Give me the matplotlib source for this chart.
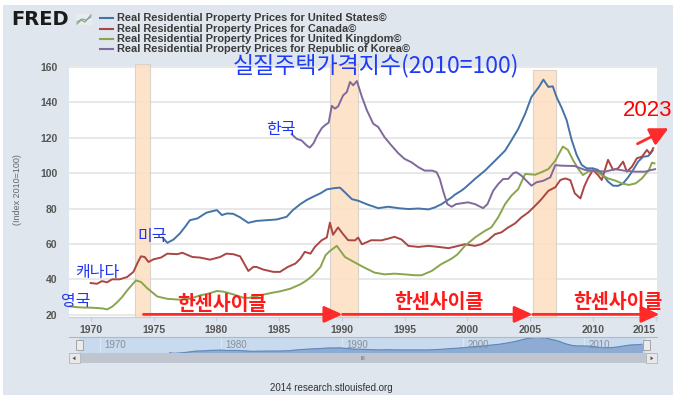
import matplotlib.pyplot as plt
from matplotlib.patches import Rectangle, FancyArrowPatch, Polygon
from matplotlib.lines import Line2D

W, H = 675, 399

# ---- data (index 2010=100) ----
us_years = [1975.75, 1976.1, 1976.6, 1977.1, 1977.5, 1977.9, 1978.5, 1979.2, 1979.8,
            1980.05, 1980.45, 1980.85, 1981.35, 1981.9, 1982.55, 1983.2, 1984.0, 1984.8,
            1985.6, 1986.1, 1986.7, 1987.2, 1987.7, 1988.3, 1988.8, 1989.3, 1989.85,
            1990.25, 1990.8, 1991.3, 1992.1, 1992.9, 1993.7, 1994.5, 1995.3, 1996.1,
            1996.9, 1997.4, 1997.95, 1998.75, 1999.0, 1999.5, 1999.8, 2000.6, 2001.4,
            2002.2, 2003.0, 2003.5, 2004.05, 2004.6, 2005.1, 2005.7, 2006.05, 2006.45,
            2006.8, 2007.1, 2007.5, 2007.9, 2008.3, 2008.7, 2009.1, 2009.5, 2010.0,
            2010.4, 2010.8, 2011.2, 2011.6, 2012.0, 2012.4, 2012.8, 2013.2, 2013.6,
            2014.0, 2014.4, 2014.75]
us_vals = [63.5, 60.6, 62.5, 65.9, 69.5, 73.4, 74.4, 77.6, 78.7,
           79.1, 76.3, 77.2, 77.0, 75.0, 71.9, 73.0, 73.4, 73.8,
           75.3, 79.1, 82.5, 84.8, 86.6, 88.6, 90.8, 91.4, 91.8,
           89.1, 85.3, 84.4, 82.1, 80.2, 81.0, 80.2, 79.7, 80.0,
           79.5, 80.6, 82.5, 86.3, 87.8, 90.0, 91.6, 96.7, 101.4,
           107.0, 112.7, 118.4, 125.0, 133.5, 143.0, 148.7, 152.8, 148.7,
           149.0, 143.0, 137.0, 130.0, 118.8, 110.3, 104.6, 102.7, 102.7,
           101.8, 98.9, 95.2, 92.9, 92.8, 94.2, 97.6, 101.8, 106.5,
           109.3, 109.6, 112.7]

ca_years = [1970.0, 1970.5, 1970.9, 1971.3, 1971.7, 1972.3, 1972.9, 1973.4, 1973.7,
            1974.0, 1974.3, 1974.6, 1975.0, 1975.6, 1976.1, 1976.9, 1977.3, 1978.1,
            1978.7, 1979.5, 1980.3, 1980.8, 1981.35, 1981.9, 1982.3, 1982.55, 1982.95,
            1983.2, 1983.75, 1984.55, 1985.07, 1985.7, 1986.3, 1986.7, 1987.05, 1987.5,
            1987.85, 1988.4, 1988.8, 1989.05, 1989.3, 1989.7, 1990.1, 1990.5, 1991.05,
            1991.3, 1991.6, 1992.35, 1993.15, 1993.7, 1994.2, 1994.75, 1995.3, 1996.1,
            1996.9, 1997.7, 1998.5, 1999.1, 1999.8, 2000.6, 2001.1, 2001.65, 2002.2,
            2002.7, 2003.25, 2003.8, 2004.3, 2004.85, 2005.4, 2005.9, 2006.45, 2007.0,
            2007.4, 2007.8, 2008.2, 2008.55, 2009.0, 2009.3, 2009.6, 2010.0, 2010.4,
            2010.7, 2010.95, 2011.2, 2011.6, 2012.0, 2012.4, 2012.7, 2013.1, 2013.5,
            2013.9, 2014.3, 2014.55, 2014.8]
ca_vals = [37.9, 37.5, 39.0, 38.3, 40.0, 40.0, 41.3, 44.2, 48.9,
           53.0, 52.6, 49.8, 51.3, 52.3, 54.5, 54.2, 55.0, 52.6,
           52.3, 51.1, 52.6, 54.5, 54.2, 53.0, 47.9, 44.7, 47.0,
           47.0, 45.5, 44.2, 44.2, 47.0, 48.9, 51.7, 55.5, 54.5,
           58.3, 62.1, 63.6, 72.0, 65.2, 69.3, 65.5, 62.1, 62.0,
           63.6, 59.8, 62.1, 62.0, 63.0, 64.0, 62.5, 58.9, 58.3,
           58.9, 58.3, 57.6, 58.6, 59.8, 58.9, 59.8, 62.1, 65.5,
           66.5, 69.3, 71.6, 75.0, 77.8, 81.6, 85.3, 90.0, 92.0,
           96.1, 97.0, 96.0, 88.6, 85.7, 92.3, 97.0, 101.8, 98.9,
           96.1, 101.8, 107.5, 101.8, 102.7, 106.5, 100.8, 103.6, 108.4,
           109.3, 113.1, 110.8, 114.1]

uk_years = [1968.35, 1969.0, 1969.7, 1970.0, 1970.5, 1971.0, 1971.3, 1971.7, 1972.1,
            1972.5, 1972.9, 1973.3, 1973.6, 1974.0, 1974.5, 1975.3, 1976.1, 1977.1,
            1977.9, 1978.7, 1979.4, 1980.05, 1980.6, 1981.35, 1982.15, 1982.6, 1983.5,
            1984.3, 1985.07, 1985.9, 1986.7, 1987.2, 1987.7, 1988.3, 1988.7, 1989.05,
            1989.6, 1990.25, 1991.04, 1991.8, 1992.6, 1993.4, 1994.2, 1995.0, 1995.8,
            1996.35, 1997.15, 1997.9, 1998.7, 1999.2, 1999.8, 2000.6, 2001.4, 2001.9,
            2002.45, 2003.0, 2003.5, 2004.05, 2004.6, 2005.4, 2005.9, 2006.45, 2007.0,
            2007.6, 2008.0, 2008.4, 2008.8, 2009.2, 2009.6, 2010.15, 2010.7, 2011.2,
            2011.8, 2012.3, 2012.85, 2013.4, 2013.9, 2014.45, 2014.7, 2014.9]
uk_vals = [24.7, 24.2, 24.0, 24.0, 23.8, 23.5, 23.0, 24.5, 27.0,
           30.0, 33.7, 37.0, 39.4, 38.5, 35.0, 30.3, 29.0, 28.5,
           29.0, 30.9, 32.0, 33.4, 33.0, 31.5, 29.6, 29.5, 31.0,
           32.2, 33.2, 34.7, 37.2, 39.4, 42.3, 47.0, 53.6, 56.0,
           58.9, 52.6, 49.5, 46.6, 43.8, 42.8, 43.2, 42.8, 42.3,
           42.3, 44.7, 48.5, 51.5, 54.0, 58.9, 63.6, 67.4, 69.3,
           75.0, 82.5, 87.2, 91.0, 99.5, 99.1, 100.5, 102.3, 107.0,
           115.0, 113.1, 107.5, 102.7, 98.9, 100.8, 101.7, 98.9, 97.0,
           95.7, 94.2, 93.3, 94.2, 97.0, 101.7, 105.9, 105.5]

kr_years = [1986.0, 1986.4, 1986.8, 1987.2, 1987.45, 1987.75, 1988.0, 1988.4, 1988.7,
            1988.95, 1989.2, 1989.45, 1989.7, 1990.1, 1990.4, 1990.65, 1990.9, 1991.2,
            1991.6, 1992.0, 1992.5, 1992.9, 1993.4, 1993.95, 1994.5, 1995.0, 1995.55,
            1996.1, 1996.6, 1997.2, 1997.55, 1997.8, 1998.1, 1998.4, 1998.75, 1999.1,
            1999.5, 2000.05, 2000.6, 2001.25, 2001.6, 2002.05, 2002.45, 2002.85, 2003.25,
            2003.65, 2003.9, 2004.3, 2004.7, 2005.1, 2005.5, 2006.05, 2006.6, 2007.0,
            2007.5, 2008.55, 2009.35, 2010.15, 2010.95, 2011.75, 2012.5, 2013.35, 2014.15,
            2014.65, 2014.95]
kr_vals = [122.0, 119.4, 118.4, 115.6, 114.4, 116.9, 120.7, 125.4, 127.3,
           128.5, 138.0, 136.4, 137.7, 143.9, 145.8, 151.5, 149.6, 152.0,
           143.0, 135.4, 127.9, 126.0, 120.3, 115.6, 111.2, 108.0, 106.1,
           103.3, 101.4, 101.4, 100.5, 96.7, 89.1, 82.5, 81.0, 82.5,
           82.9, 83.5, 82.5, 80.2, 82.5, 90.0, 93.8, 96.7, 96.7,
           99.9, 100.5, 98.6, 95.7, 92.9, 94.8, 95.7, 97.6, 104.5,
           104.2, 104.0, 101.8, 101.4, 100.8, 102.2, 101.4, 100.8, 100.8,
           101.8, 102.2]

series_labels = ["Real Residential Property Prices for United States©",
                 "Real Residential Property Prices for Canada©",
                 "Real Residential Property Prices for United Kingdom©",
                 "Real Residential Property Prices for Republic of Korea©"]
series_colors = ['#4572a7', '#aa4643', '#89a54e', '#80699b']

# Hansen cycle bands (year ranges) and arrows along the bottom
hansen_spans = [(1973.53, 1974.72), (1989.05, 1991.3), (2005.19, 2007.02)]
hansen_arrows = [(1974.2, 1990.05), (1990.05, 2005.2), (2005.2, 2015.3)]

x_ticks = [1970, 1975, 1980, 1985, 1990, 1995, 2000, 2005, 2010, 2015]
y_ticks = [20, 40, 60, 80, 100, 120, 140, 160]
nav_ticks = [1970, 1980, 1990, 2000, 2010]

KR = 'Noto Sans CJK KR'
SANS = 'Liberation Sans'


def fxy(px, py):
    """Pixel position (top-left origin) -> figure fraction."""
    return px / W, 1 - py / H


fig = plt.figure(figsize=(W / 100, H / 100), dpi=100, facecolor='white')

# light panel behind everything (below the axes)
fig.patches.append(Rectangle(fxy(3, 395), 670 / W, 390 / H, transform=fig.transFigure,
                             facecolor='#dfe6ee', edgecolor='none', zorder=-5))

# ---- main plot ----
ax = fig.add_axes([69 / W, 1 - 316.5 / H, 588 / W, 250.5 / H])
ax.set_facecolor('white')
ax.set_xlim(1968.27, 2015.1)
ax.set_ylim(19, 160.5)
for s in ['top', 'right', 'left']:
    ax.spines[s].set_visible(False)
ax.spines['bottom'].set_color('#c0d0e0')

ax.set_yticks(y_ticks)
ax.yaxis.grid(True, color='#e4e4e4', lw=1.2)
ax.set_axisbelow(True)
ax.tick_params(axis='y', length=0, pad=8.5, labelsize=7.5, labelcolor='#555555')
ax.set_xticks(x_ticks)
ax.tick_params(axis='x', length=3, width=0.8, color='#c0d0e0', pad=3,
               labelsize=7.5, labelcolor='#555555')
for lab in ax.get_xticklabels() + ax.get_yticklabels():
    lab.set_family(SANS)
    lab.set_fontweight('bold')
ax.get_xticklabels()[-1].set_horizontalalignment('right')

fig.text(*fxy(18, 190), '(Index 2010=100)', rotation=90, ha='center', va='center',
         fontsize=6.5, color='#666666', family=SANS)

# shaded bands (they stick out of the plot a bit, as in the original)
band_ext = [(18.6, 161.9), (18.6, 161.9), (18.6, 158.5)]
for (a, b), (lo, hi) in zip(hansen_spans, band_ext):
    ax.add_patch(Rectangle((a, lo), b - a, hi - lo, facecolor='#fde0c4', edgecolor='#d8d0c8',
                           lw=0.8, alpha=0.9, zorder=1, clip_on=False))

# series
for xs, ys, c in zip([us_years, ca_years, uk_years, kr_years],
                     [us_vals, ca_vals, uk_vals, kr_vals], series_colors):
    ax.plot(xs, ys, color=c, lw=1.4, zorder=3, solid_joinstyle='round')

# hansen arrows + labels
for a, b in hansen_arrows:
    ax.annotate('', xy=(b, 20.2), xytext=(a, 20.2), annotation_clip=False,
                arrowprops=dict(arrowstyle='-|>,head_length=1.1,head_width=0.5',
                                color='#ff2a2a', lw=2, mutation_scale=10,
                                shrinkA=0, shrinkB=0), zorder=5)
for x, y in [(1980.45, 25.6), (1997.73, 27.0), (2011.96, 27.0)]:
    ax.text(x, y, '한센사이클', ha='center', va='center', fontsize=14, fontweight='bold',
            color='#ff1a1a', family=KR, zorder=6)

# country labels in blue
for x, y, t in [(1985.15, 124.5, '한국'), (1974.88, 64.4, '미국'),
                (1970.5, 44.0, '캐나다'), (1968.83, 27.5, '영국')]:
    ax.text(x, y, t, ha='center', va='center', fontsize=11.5, color='#2035f0',
            family=KR, zorder=6, clip_on=False)

# title annotation and the 2023 arrow
fig.text(*fxy(376, 66), '실질주택가격지수(2010=100)', ha='center', va='center',
         fontsize=16.5, color='#1f3cf5', family=KR, zorder=7)
fig.text(*fxy(648, 110), '2023', ha='center', va='center', fontsize=16,
         color='#ff0000', family=SANS, zorder=7)
fig.patches.append(FancyArrowPatch(fxy(635, 145), fxy(671, 127), transform=fig.transFigure,
                                   arrowstyle='-|>,head_length=1.1,head_width=0.55',
                                   mutation_scale=10, color='#ff2a2a', lw=2, zorder=7))

# ---- FRED header and legend ----
fig.text(*fxy(11, 19.7), 'FRED', ha='left', va='center', fontsize=14,
         fontweight='bold', color='#1a1a1a', family='DejaVu Sans')
fig.patches.append(Rectangle(fxy(76, 25), 16 / W, 11 / H, transform=fig.transFigure,
                             facecolor='#e8ecef', edgecolor='none'))
fig.lines.append(Line2D([77 / W, 81 / W, 85 / W, 91 / W], [1 - 24 / H, 1 - 20 / H, 1 - 22 / H, 1 - 15 / H],
                        transform=fig.transFigure, color='#8fb46a', lw=1))
fig.lines.append(Line2D([77 / W, 82 / W, 86 / W, 91 / W], [1 - 22 / H, 1 - 19 / H, 1 - 20 / H, 1 - 17 / H],
                        transform=fig.transFigure, color='#7a9cc8', lw=0.8))
for i, (lab, c) in enumerate(zip(series_labels, series_colors)):
    py = 18.3 + i * 10.3
    fig.lines.append(Line2D([100 / W, 113 / W], [1 - py / H] * 2, transform=fig.transFigure,
                            color=c, lw=1.5))
    fig.text(*fxy(117, py), lab, ha='left', va='center', fontsize=7.9, fontweight='bold',
             color='#3a3a3a', family=SANS)

# ---- navigator ----
nav = fig.add_axes([79 / W, 1 - 353.3 / H, 567 / W, 16.6 / H])
nav.set_facecolor('#c7daee')
nav.set_xlim(1968.27, 2015.1)
nav.set_ylim(min(us_vals), max(us_vals) + 3)
for s in nav.spines.values():
    s.set_visible(False)
nav.set_xticks([])
nav.set_yticks([])
for t in nav_ticks:
    nav.axvline(t, color='#dde7f2', lw=0.8, zorder=1)
    nav.text(t + 0.35, 0.5, str(t), transform=nav.get_xaxis_transform(), ha='left', va='center',
             fontsize=7, color='#8a8f96', family=SANS, zorder=4)
nav.fill_between(us_years, us_vals, min(us_vals), color='#8eabd3', zorder=2)
nav.plot(us_years, us_vals, color='#5f87bd', lw=0.8, zorder=3)

fig.lines.append(Line2D([69 / W, 657 / W], [1 - 336.7 / H] * 2, transform=fig.transFigure,
                        color='#b3b8c0', lw=0.8))
# handles
for px in [76, 643]:
    fig.patches.append(Rectangle(fxy(px, 350), 7 / W, 10 / H, transform=fig.transFigure,
                                 facecolor='#ebebeb', edgecolor='#9a9a9a', lw=0.6, zorder=5))
# scrollbar
fig.patches.append(Rectangle(fxy(69, 363.3), 588 / W, 10 / H, transform=fig.transFigure,
                             facecolor='#bfc6cf', edgecolor='none'))
for px in [69, 646]:
    fig.patches.append(Rectangle(fxy(px, 363.3), 11 / W, 10 / H, transform=fig.transFigure,
                                 facecolor='#e8e8e8', edgecolor='#b5b5b5', lw=0.6))
fig.patches.append(Polygon([fxy(72.5, 358.3), fxy(75.5, 356.3), fxy(75.5, 360.3)], closed=True,
                           transform=fig.transFigure, facecolor='#555555', edgecolor='none'))
fig.patches.append(Polygon([fxy(653.5, 358.3), fxy(650.5, 356.3), fxy(650.5, 360.3)], closed=True,
                           transform=fig.transFigure, facecolor='#555555', edgecolor='none'))
fig.text(*fxy(363, 358.3), 'III', ha='center', va='center', fontsize=4, color='#666666')

fig.text(*fxy(331, 388), '2014 research.stlouisfed.org', ha='center', va='center',
         fontsize=7, color='#333333', family=SANS)

fig.savefig('out.png', dpi=100, facecolor=fig.get_facecolor())
